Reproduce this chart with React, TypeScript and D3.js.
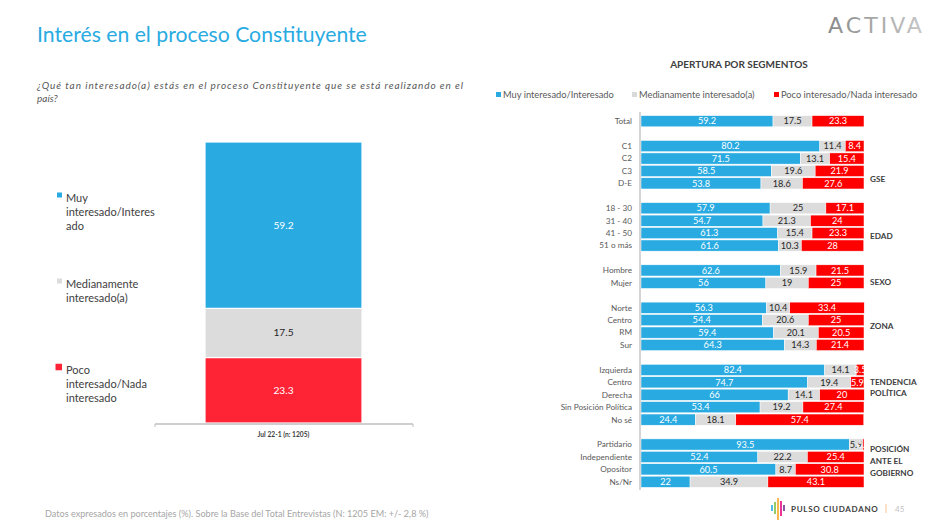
import React from 'react';
import * as d3 from 'd3';

// Left chart: total
const totalLabel = 'Jul 22-1 (n: 1205)';
const seriesNames = ['Muy interesado/Interesado', 'Medianamente interesado(a)', 'Poco interesado/Nada interesado'];
const totalValues = [59.2, 17.5, 23.3];

// Right chart: segments
const categories = [
  'Total',
  'C1', 'C2', 'C3', 'D-E',
  '18 - 30', '31 - 40', '41 - 50', '51 o más',
  'Hombre', 'Mujer',
  'Norte', 'Centro', 'RM', 'Sur',
  'Izquierda', 'Centro', 'Derecha', 'Sin Posición Política', 'No sé',
  'Partidario', 'Independiente', 'Opositor', 'Ns/Nr',
];
const groupSizes = [1, 4, 4, 2, 4, 5, 4];
const groupNames = [[], ['GSE'], ['EDAD'], ['SEXO'], ['ZONA'], ['TENDENCIA', 'POLÍTICA'], ['POSICIÓN', 'ANTE EL', 'GOBIERNO']];
const muy = [59.2, 80.2, 71.5, 58.5, 53.8, 57.9, 54.7, 61.3, 61.6, 62.6, 56, 56.3, 54.4, 59.4, 64.3, 82.4, 74.7, 66, 53.4, 24.4, 93.5, 52.4, 60.5, 22];
const medio = [17.5, 11.4, 13.1, 19.6, 18.6, 25, 21.3, 15.4, 10.3, 15.9, 19, 10.4, 20.6, 20.1, 14.3, 14.1, 19.4, 14.1, 19.2, 18.1, 5.9, 22.2, 8.7, 34.9];
const poco = [23.3, 8.4, 15.4, 21.9, 27.6, 17.1, 24, 23.3, 28, 21.5, 25, 33.4, 25, 20.5, 21.4, 3.5, 5.9, 20, 27.4, 57.4, 0.6, 25.4, 30.8, 43.1];

const BLUE = '#29abe2';
const GRAY = '#dcdcdc';
const RED_R = '#ff0000';
const RED_L = '#fe2436';
const FONT = 'Lato, "Open Sans", sans-serif';

export default function App() {
  // slot index for each category (blank slot between groups)
  const slots: number[] = [];
  const groupStart: number[] = [];
  let s = 0;
  groupSizes.forEach((n, g) => {
    groupStart.push(s);
    for (let i = 0; i < n; i++) slots.push(s++);
    if (g < groupSizes.length - 1) s++;
  });
  const nSlots = s;

  const x = d3.scaleLinear().domain([0, 100]).range([641, 864]);
  const y = d3.scaleBand<number>().domain(d3.range(nSlots)).range([115, 488]).paddingInner(0.1).paddingOuter(0.05);
  const yc = (v: number) => y.range()[0] + y.step() * (v + 0.05) + y.bandwidth() / 2;

  const rows = categories.map((c, i) => {
    const vals = [muy[i], medio[i], poco[i]];
    let acc = 0;
    const segs = vals.map((v) => {
      const seg = { x0: acc, x1: acc + v, v };
      acc += v;
      return seg;
    });
    return { c, slot: slots[i], segs };
  });
  const rColors = [BLUE, GRAY, RED_R];
  const textColors = ['#ffffff', '#262626', '#ffffff'];

  // group label vertical offsets relative to group start (in slots)
  const labelSlot = [0, 2.66, 2.24, 0.93, 1.5, 0.96, 0.4];

  // Left chart
  const yl = d3.scaleLinear().domain([0, 100]).range([423, 142]);
  let accL = 0;
  const leftOrder = [2, 1, 0];
  const leftSegs = leftOrder.map((k) => {
    const seg = { k, y0: accL, y1: accL + totalValues[k] };
    accL += totalValues[k];
    return seg;
  });
  const lColors = [BLUE, GRAY, RED_L];
  const legendLeft = [
    { lines: ['Muy', 'interesado/Interes', 'ado'], y: 198, sq: 5 },
    { lines: ['Medianamente', 'interesado(a)'], y: 284, sq: 5 },
    { lines: ['Poco', 'interesado/Nada', 'interesado'], y: 370, sq: 6.5 },
  ];

  const legendRight = [
    { x: 496, label: seriesNames[0] },
    { x: 632, label: seriesNames[1] },
    { x: 774, label: seriesNames[2] },
  ];

  const pulsoBars = [
    { x: 772, y0: 505, y1: 511, c: '#29abe2' },
    { x: 775, y0: 502, y1: 514, c: '#7ac143' },
    { x: 778, y0: 498, y1: 520, c: '#f7a823' },
    { x: 781, y0: 501, y1: 516, c: '#e6007e' },
    { x: 784, y0: 505, y1: 511, c: '#6f2c91' },
  ];

  return (
    <svg width={939} height={526} style={{ position: 'absolute', left: 0, top: 0, background: '#fff' }} fontFamily={FONT}>
      <defs>
        <linearGradient id="activa" x1="0" x2="1" y1="0" y2="0">
          <stop offset="0" stopColor="#8a8a8a" />
          <stop offset="1" stopColor="#c8c8c8" />
        </linearGradient>
      </defs>
      {/* Title */}
      <text x={37} y={42} fontSize={21.2} fill={BLUE}>Interés en el proceso Constituyente</text>
      <text x={37} y={89} fontSize={10} fontStyle="italic" fill="#595959" textLength={426} lengthAdjust="spacing">
        ¿Qué tan interesado(a) estás en el proceso Constituyente que se está realizando en el
      </text>
      <text x={37} y={102} fontSize={10} fontStyle="italic" fill="#595959">país?</text>

      {/* ACTIVA logo */}
      <text x={828} y={33} fontSize={22} fill="url(#activa)" letterSpacing={3} fontWeight={400} fontFamily='"DejaVu Sans", sans-serif' textLength={97} lengthAdjust="spacingAndGlyphs">ACTIVA</text>

      {/* Left chart */}
      {leftSegs.map((sg) => (
        <g key={sg.k}>
          <rect x={205} width={157} y={yl(sg.y1)} height={yl(sg.y0) - yl(sg.y1)} fill={lColors[sg.k]} stroke="#fff" strokeWidth={1.2} />
          <text x={283.5} y={(yl(sg.y0) + yl(sg.y1)) / 2 + 3.5} textAnchor="middle" fontSize={10.2} fill={sg.k === 1 ? '#262626' : '#fff'}>
            {totalValues[sg.k]}
          </text>
        </g>
      ))}
      <line x1={155} x2={413} y1={424} y2={424} stroke="#bfbfbf" strokeWidth={1.5} />
      <line x1={155} x2={155} y1={424} y2={427} stroke="#bfbfbf" strokeWidth={1} />
      <line x1={413} x2={413} y1={424} y2={427} stroke="#bfbfbf" strokeWidth={1} />
      <text x={283.5} y={437} textAnchor="middle" fontSize={6.7} fontWeight={700} fill="#404040">{totalLabel}</text>

      {legendLeft.map((l, i) => (
        <g key={i}>
          <rect x={62 - l.sq} y={l.y - 2 - l.sq / 2 - 1} width={l.sq} height={l.sq} fill={lColors[i]} />
          {l.lines.map((t, j) => (
            <text key={j} x={66} y={l.y + 4 + j * 14} fontSize={11} fill="#404040">{t}</text>
          ))}
        </g>
      ))}

      {/* Right chart */}
      <text x={739} y={68} textAnchor="middle" fontSize={10} fontWeight={700} fill="#404040">APERTURA POR SEGMENTOS</text>
      {legendRight.map((l, i) => (
        <g key={i}>
          <rect x={l.x} y={92} width={5} height={5} fill={[BLUE, '#d9d9d9', RED_R][i]} />
          <text x={l.x + 7} y={98} fontSize={9.3} fill="#595959">{l.label}</text>
        </g>
      ))}

      {rows.map((r, i) => (
        <g key={i}>
          <text x={632} y={yc(r.slot) + 2.9} textAnchor="end" fontSize={8.2} fill="#595959">{r.c}</text>
          {r.segs.map((sg, k) => (
            <g key={k}>
              <rect x={x(sg.x0)} y={y(r.slot)} width={x(sg.x1) - x(sg.x0)} height={y.bandwidth()} fill={rColors[k]} stroke="#fff" strokeWidth={0.5} />
              <text x={(x(sg.x0) + x(sg.x1)) / 2} y={yc(r.slot) + 3.2} textAnchor="middle" fontSize={9.2} fill={textColors[k]}>{sg.v}</text>
            </g>
          ))}
        </g>
      ))}
      <line x1={640} x2={640} y1={112} y2={490} stroke="#bfbfbf" strokeWidth={1.3} />

      {groupNames.map((lines, g) =>
        lines.map((t, j) => (
          <text key={`${g}-${j}`} x={870} y={yc(groupStart[g] + labelSlot[g]) + 3 + j * 11.6} fontSize={8.2} fontWeight={700} fill="#404040">{t}</text>
        ))
      )}

      {/* Footer */}
      <text x={45} y={517} fontSize={9.1} fill="#a6a6a6">Datos expresados en porcentajes (%). Sobre la Base del Total Entrevistas (N: 1205  EM: +/- 2,8 %)</text>
      {pulsoBars.map((b, i) => (
        <line key={i} x1={b.x} x2={b.x} y1={b.y0} y2={b.y1} stroke={b.c} strokeWidth={1.6} />
      ))}
      <text x={791} y={512} fontSize={8} fontWeight={700} fill="#404040" letterSpacing={0.7}>PULSO CIUDADANO</text>
      <line x1={886} x2={886} y1={504} y2={513} stroke="#f2c48a" strokeWidth={1} />
      <text x={895} y={512} fontSize={8} fill="#bfbfbf">45</text>
    </svg>
  );
}
